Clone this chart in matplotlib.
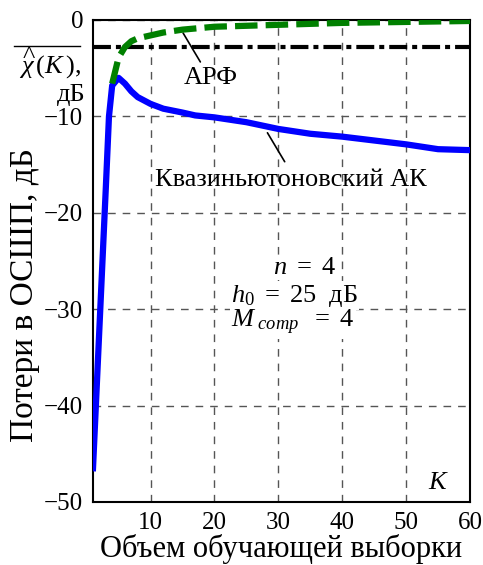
"""Losses in SNR vs training sample size (quasi-Newton AK vs ARF)."""

import matplotlib

matplotlib.use("Agg")
import matplotlib.pyplot as plt  # noqa: E402
from matplotlib.lines import Line2D  # noqa: E402

plt.rcParams["font.family"] = ["Liberation Serif", "DejaVu Serif"]
plt.rcParams["mathtext.fontset"] = "custom"
plt.rcParams["mathtext.rm"] = "Liberation Serif"
plt.rcParams["mathtext.it"] = "Liberation Serif:italic"

# quasi-Newton adaptive compensator
k_qn = [1, 2, 3, 3.5, 4, 5, 6, 7, 8, 10, 12, 15, 17, 20, 25, 30, 35, 40, 45, 50, 55, 60]
loss_qn = [-46.5, -32.0, -17.5, -10.0, -6.8, -6.0, -6.6, -7.4, -8.0, -8.7, -9.2, -9.6,
           -9.9, -10.1, -10.6, -11.3, -11.8, -12.1, -12.5, -12.9, -13.4, -13.5]

# ARF
k_arf = [4, 5, 6, 7, 8, 10, 12, 15, 20, 25, 30, 40, 50, 60]
loss_arf = [-6.6, -3.9, -2.8, -2.2, -1.9, -1.6, -1.3, -1.0, -0.7, -0.6, -0.5, -0.3, -0.2, -0.1]

ref_level = -2.85

fig = plt.figure(figsize=(4.83, 5.65), dpi=100)
ax = fig.add_axes([93 / 483, 1 - 502 / 565, 377 / 483, 482 / 565])

ax.plot(k_qn, loss_qn, color="#0000ff", lw=4.5, solid_joinstyle="round", zorder=3)
ax.plot(k_arf, loss_arf, color="#008000", lw=4.5, ls=(0, (3.6, 1.3)), zorder=4)
ax.axhline(ref_level, color="black", lw=3, ls=(0, (4.3, 1.2, 1.2, 1.2)), zorder=2)

ax.set_xlim(1, 60)
ax.set_ylim(-50, 0)
ax.set_xticks([10, 20, 30, 40, 50, 60])
ax.set_yticks([-50, -40, -30, -20, -10, 0])
ax.tick_params(labelsize=18, direction="in", length=0, pad=7)
ax.grid(True, ls=(0, (5.5, 5)), color="#555555", lw=1)
for s in ax.spines.values():
    s.set_linewidth(1.5)

ax.set_xlabel("Объем обучающей выборки", fontsize=22, labelpad=0)
ax.set_ylabel("Потери в ОСШП, дБ", fontsize=24, labelpad=3, y=0.43)

# chi-hat label with overline in the upper left corner
fig.text(50 / 483, 1 - 63 / 565, r"$\widehat{\chi}\,(K\,),$", fontsize=19, ha="center", va="center")
fig.text(71 / 483, 1 - 95 / 565, "дБ", fontsize=19, ha="center", va="center")
fig.add_artist(Line2D([14 / 483, 80 / 483], [1 - 46 / 565, 1 - 46 / 565], color="black", lw=1))

# annotations: leader lines, then their labels
ax.annotate("", xy=(15.1, -1.35), xytext=(17.8, -4.35),
            arrowprops=dict(arrowstyle="-", color="black", lw=1.2, shrinkA=0, shrinkB=0))
ax.text(19.4, -6.0, "АРФ", fontsize=19, ha="center", va="center")
ax.annotate("", xy=(28.3, -11.7), xytext=(31.0, -14.7),
            arrowprops=dict(arrowstyle="-", color="black", lw=1.2, shrinkA=0, shrinkB=0))
ax.text(31.9, -16.6, "Квазиньютоновский АК", fontsize=19, ha="center", va="center")

box = dict(fc="white", ec="none", pad=1)
ax.text(29.1, -25.7, r"$n\ =\ 4$", fontsize=19, ha="left", va="center", bbox=box)
ax.text(22.6, -28.6, r"$h_0\ =\ 25$  дБ", fontsize=19, ha="left", va="center", bbox=box)
ax.text(22.6, -31.4, r"$M_{\ comp}\ \ =\ 4$", fontsize=19, ha="left", va="center", bbox=box)
ax.text(55.0, -48.0, r"$K$", fontsize=19, ha="center", va="center")

fig.savefig("out.png", dpi=100)
plt.close(fig)
print("wrote out.png")
